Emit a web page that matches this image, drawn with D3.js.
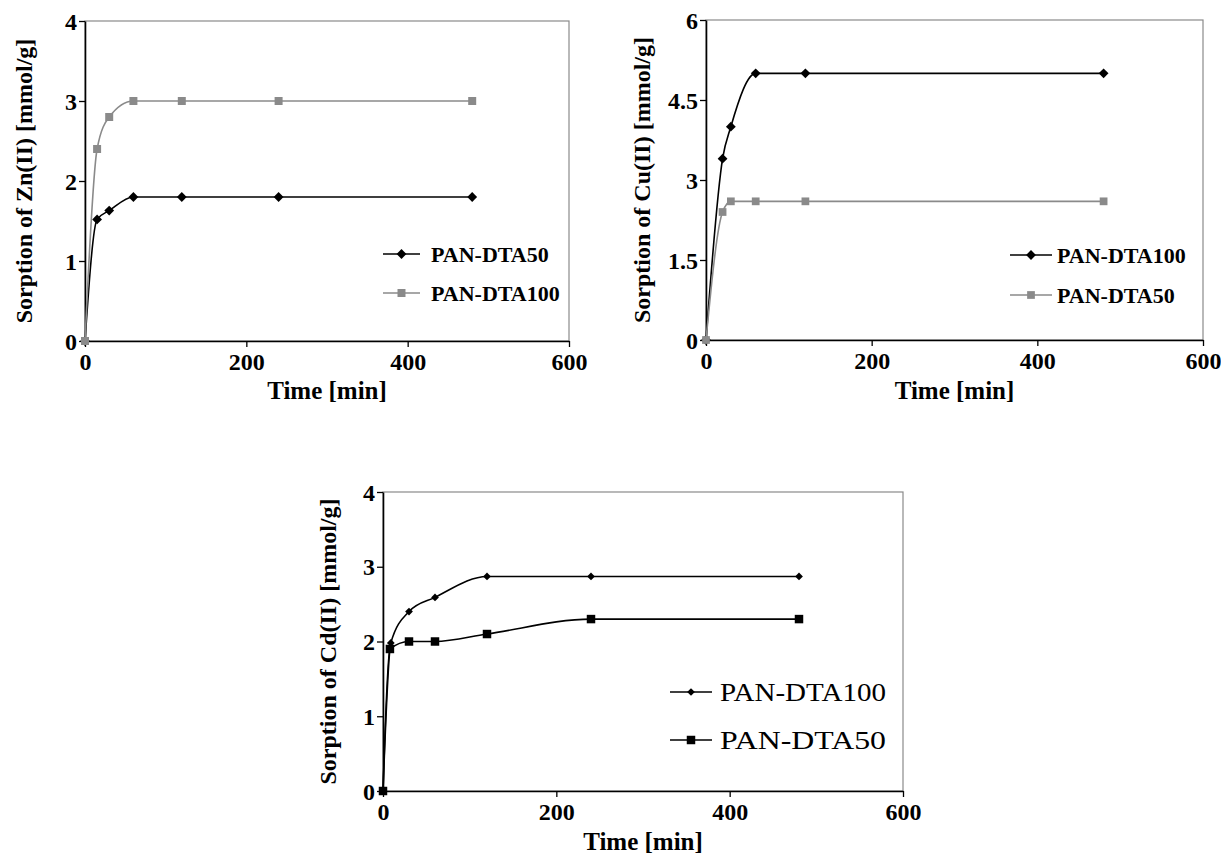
<!DOCTYPE html>
<html>
<head>
<meta charset="utf-8">
<script src="https://cdn.jsdelivr.net/npm/d3@7"></script>
<style>
body{margin:0;background:#fff;}
svg{display:block;}
text{font-family:"Liberation Serif","Times New Roman",serif;}
</style>
</head>
<body>
<script>
// data (time in min, sorption in mmol/g)
const znTime=[0,15,30,60,120,240,480];
const znDTA50=[0,1.52,1.63,1.8,1.8,1.8,1.8];
const znDTA100=[0,2.4,2.8,3.0,3.0,3.0,3.0];

const cuTime=[0,20,30,60,120,480];
const cuDTA100=[0,3.4,4.0,5.0,5.0,5.0];
const cuDTA50=[0,2.4,2.6,2.6,2.6,2.6];

const cdTime100=[0,9,30,60,120,240,480];
const cdDTA100=[0,1.98,2.4,2.59,2.87,2.87,2.87];
const cdTime50=[0,8,30,60,120,240,480];
const cdDTA50=[0,1.9,2.0,2.0,2.1,2.3,2.3];

const xTicks=[0,200,400,600];
const znYTicks=[0,1,2,3,4];
const cuYTicks=[0,1.5,3,4.5,6];
const cdYTicks=[0,1,2,3,4];

const W=1221,H=854;
const svg=d3.select("body").append("svg").attr("width",W).attr("height",H);

function pts(t,v){return t.map((d,i)=>[d,v[i]]);}

const panels=[
  {x0:85,x1:569,y0:21,y1:341,ymax:4,yticks:znYTicks,ytitle:"Sorption of Zn(II) [mmol/g]",
   ytx:24,xty:399,bold:true,
   series:[
     {name:"PAN-DTA50",data:pts(znTime,znDTA50),color:"#000",shape:"diamond",size:48},
     {name:"PAN-DTA100",data:pts(znTime,znDTA100),color:"#8a8a8a",shape:"square",size:64}],
   legend:{x:383,y:254,dy:39,len:37,tx:431,fs:22,tl:null}},
  {x0:706,x1:1203,y0:20,y1:340,ymax:6,yticks:cuYTicks,ytitle:"Sorption of Cu(II) [mmol/g]",
   ytx:642,xty:399,bold:true,
   series:[
     {name:"PAN-DTA100",data:pts(cuTime,cuDTA100),color:"#000",shape:"diamond",size:48},
     {name:"PAN-DTA50",data:pts(cuTime,cuDTA50),color:"#8a8a8a",shape:"square",size:60}],
   legend:{x:1010,y:255,dy:40,len:42,tx:1057,fs:22,tl:null}},
  {x0:383,x1:903,y0:492,y1:791,ymax:4,yticks:cdYTicks,ytitle:"Sorption of Cd(II) [mmol/g]",
   ytx:328,xty:850,bold:false,
   series:[
     {name:"PAN-DTA100",data:pts(cdTime100,cdDTA100),color:"#000",shape:"diamond",size:30},
     {name:"PAN-DTA50",data:pts(cdTime50,cdDTA50),color:"#000",shape:"square",size:72}],
   legend:{x:670,y:692,dy:48,len:42,tx:720,fs:25,tl:166}}
];

function marker(size){
  return d3.symbol().type(d3.symbolSquare).size(size)();
}

panels.forEach(p=>{
  const x=d3.scaleLinear().domain([0,600]).range([p.x0,p.x1]);
  const y=d3.scaleLinear().domain([0,p.ymax]).range([p.y1,p.y0]);
  const g=svg.append("g");

  // plot frame
  g.append("rect").attr("x",p.x0).attr("y",p.y0)
    .attr("width",p.x1-p.x0).attr("height",p.y1-p.y0)
    .attr("fill","none").attr("stroke","#8a8a8a").attr("stroke-width",1.2);

  // axes
  const ax=g.append("g").attr("transform",`translate(0,${p.y1})`)
    .call(d3.axisBottom(x).tickValues(xTicks).tickSize(6).tickSizeOuter(0).tickFormat(d3.format("d")));
  const ay=g.append("g").attr("transform",`translate(${p.x0},0)`)
    .call(d3.axisLeft(y).tickValues(p.yticks).tickSize(6).tickSizeOuter(0).tickFormat(d=>String(d)));
  [ax,ay].forEach(a=>{
    a.select(".domain").attr("stroke","#000").attr("stroke-width",1.6);
    a.selectAll(".tick line").attr("stroke","#000").attr("stroke-width",1.3);
    a.selectAll("text").attr("font-weight","bold").attr("font-size",24).attr("fill","#000");
  });
  ax.selectAll("text").attr("dy","0.85em");
  ay.selectAll("text").attr("x",-8).attr("dy","0.34em");

  // titles
  g.append("text").attr("x",(p.x0+p.x1)/2).attr("y",p.xty).attr("text-anchor","middle")
    .attr("font-weight","bold").attr("font-size",25).text("Time [min]");
  g.append("text").attr("transform",`translate(${p.ytx},${(p.y0+p.y1)/2}) rotate(-90)`)
    .attr("text-anchor","middle").attr("dy","0.35em")
    .attr("font-weight","bold").attr("font-size",24).text(p.ytitle);

  // series
  const line=d3.line().x(d=>x(d[0])).y(d=>y(d[1])).curve(d3.curveMonotoneX);
  p.series.forEach(s=>{
    g.append("path").datum(s.data).attr("d",line)
      .attr("fill","none").attr("stroke",s.color).attr("stroke-width",1.6);
    g.selectAll(null).data(s.data).enter().append("path")
      .attr("d",marker(s.size))
      .attr("transform",d=>`translate(${x(d[0])},${y(d[1])})`+(s.shape==="diamond"?" rotate(45)":""))
      .attr("fill",s.color);
  });

  // legend
  const L=p.legend;
  p.series.forEach((s,i)=>{
    const ly=L.y+i*L.dy;
    g.append("line").attr("x1",L.x).attr("x2",L.x+L.len).attr("y1",ly).attr("y2",ly)
      .attr("stroke",s.color).attr("stroke-width",1.6);
    g.append("path").attr("d",marker(s.size))
      .attr("transform",`translate(${L.x+L.len/2},${ly})`+(s.shape==="diamond"?" rotate(45)":""))
      .attr("fill",s.color);
    const t=g.append("text").attr("x",L.tx).attr("y",ly).attr("dy","0.35em")
      .attr("font-size",L.fs).attr("font-weight",p.bold?"bold":"normal").text(s.name);
    if(L.tl) t.attr("textLength",L.tl).attr("lengthAdjust","spacingAndGlyphs");
  });
});
</script>
</body>
</html>
